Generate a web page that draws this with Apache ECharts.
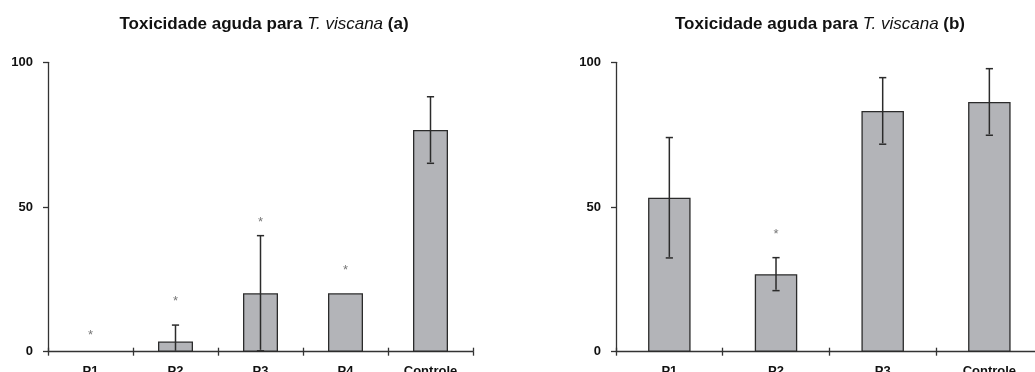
<!DOCTYPE html>
<html>
<head>
<meta charset="utf-8">
<script src="https://cdn.jsdelivr.net/npm/echarts@6/dist/echarts.min.js"></script>
<style>
html,body{margin:0;padding:0;background:#fff;}
#c{width:1035px;height:372px;}
</style>
</head>
<body>
<div id="c"></div>
<script>
// ---- data ----
var catsA = ['P1', 'P2', 'P3', 'P4', 'Controle'];
var meanA = [0, 3.5, 20.2, 20.2, 76.6];
var sdA   = [0, 5.7, 19.9, 0, 11.5];
var starA = [6.9, 18.7, 45.9, 29.4, null];

var catsB = ['P1', 'P2', 'P3', 'Controle'];
var meanB = [53.2, 26.8, 83.2, 86.3];
var sdB   = [20.8, 5.7, 11.5, 11.5];
var starB = [null, 41.8, null, null];

var yTicks = [0, 50, 100];

// ---- chart ----
var chart = echarts.init(document.getElementById('c'), null, {renderer: 'canvas'});
var FONT = '"Liberation Sans", Arial, sans-serif';
var AX = '#333';

function barData(mean) {
  return mean.map(function (v) {
    return v === 0 ? {value: v, itemStyle: {borderWidth: 0}} : v;
  });
}
function errData(mean, sd) {
  return mean.map(function (m, i) { return [i, m, sd[i]]; });
}
function starData(st) {
  var out = [];
  st.forEach(function (v, i) { if (v !== null) out.push([i, v]); });
  return out;
}
function errRender(params, api) {
  var i = api.value(0), m = api.value(1), s = api.value(2);
  if (!s) return null;
  var lo = Math.max(0, m - s), hi = m + s;
  var pHi = api.coord([i, hi]);
  var pLo = api.coord([i, lo]);
  var cap = 3.6;
  var st = {stroke: '#2b2b2b', lineWidth: 1.5};
  var ch = [
    {type: 'line', shape: {x1: pHi[0], y1: pHi[1], x2: pLo[0], y2: pLo[1] - 1}, style: st},
    {type: 'line', shape: {x1: pHi[0] - cap, y1: pHi[1], x2: pHi[0] + cap, y2: pHi[1]}, style: st}
  ];
  if (m - s > 0) {
    ch.push({type: 'line', shape: {x1: pLo[0] - cap, y1: pLo[1], x2: pLo[0] + cap, y2: pLo[1]}, style: st});
  }
  return {type: 'group', children: ch};
}
function starRender(params, api) {
  var p = api.coord([api.value(0), api.value(1)]);
  return {type: 'text', x: p[0], y: p[1] + 4,
    style: {text: '*', font: '13px ' + FONT, fill: '#777', align: 'center', verticalAlign: 'middle'}};
}

function yAxisCfg(idx) {
  return {
    type: 'value', gridIndex: idx, min: yTicks[0], max: yTicks[yTicks.length - 1], interval: 50,
    axisLine: {show: true, lineStyle: {color: AX, width: 1.3}},
    axisTick: {show: true, length: 5, lineStyle: {color: AX, width: 1.3}},
    splitLine: {show: false},
    axisLabel: {show: true, margin: 15, color: '#111', fontFamily: FONT, fontWeight: 'bold', fontSize: 13,
      customValues: yTicks}
  };
}
function xAxisCfg(idx, cats) {
  return {
    type: 'category', gridIndex: idx, data: cats, position: 'bottom',
    axisLine: {show: true, onZero: false, lineStyle: {color: AX, width: 1.3}},
    axisTick: {show: true, length: 4, lineStyle: {color: AX, width: 1.3}},
    axisLabel: {show: true, margin: 13, color: '#111', fontFamily: FONT, fontWeight: 'bold', fontSize: 13},
    splitLine: {show: false}
  };
}
function xAxisInner(idx, cats) {
  return {
    type: 'category', gridIndex: idx, data: cats, position: 'bottom', offset: 0,
    axisLine: {show: false},
    axisTick: {show: true, inside: true, length: 4, lineStyle: {color: AX, width: 1.3}},
    axisLabel: {show: false},
    splitLine: {show: false}
  };
}
function titleCfg(cx, tag) {
  return {
    text: '{n|Toxicidade aguda para }{i|T. viscana}{n| ' + tag + '}',
    left: cx, top: 11, textAlign: 'center',
    textStyle: {
      rich: {
        n: {fontFamily: FONT, fontWeight: 'bold', fontSize: 17, color: '#111'},
        i: {fontFamily: FONT, fontWeight: 'normal', fontStyle: 'italic', fontSize: 17, color: '#111'}
      }
    }
  };
}
var barStyle = {color: '#b3b4b8', borderColor: '#2b2b2b', borderWidth: 1.3};

chart.setOption({
  animation: false,
  backgroundColor: '#fff',
  title: [titleCfg(259, '(a)'), titleCfg(815, '(b)')],
  grid: [
    {left: 48, top: 62.3, width: 425, height: 289.4, outerBoundsMode: 'none', containLabel: false},
    {left: 616, top: 62.3, width: 426.7, height: 289.4, outerBoundsMode: 'none', containLabel: false}
  ],
  xAxis: [xAxisCfg(0, catsA), xAxisCfg(1, catsB), xAxisInner(0, catsA), xAxisInner(1, catsB)],
  yAxis: [yAxisCfg(0), yAxisCfg(1)],
  series: [
    {type: 'bar', xAxisIndex: 0, yAxisIndex: 0, data: barData(meanA), barWidth: 35, itemStyle: barStyle},
    {type: 'custom', xAxisIndex: 0, yAxisIndex: 0, data: errData(meanA, sdA), renderItem: errRender, z: 5},
    {type: 'custom', xAxisIndex: 0, yAxisIndex: 0, data: starData(starA), renderItem: starRender, z: 5},
    {type: 'bar', xAxisIndex: 1, yAxisIndex: 1, data: barData(meanB), barWidth: 42.5, itemStyle: barStyle},
    {type: 'custom', xAxisIndex: 1, yAxisIndex: 1, data: errData(meanB, sdB), renderItem: errRender, z: 5},
    {type: 'custom', xAxisIndex: 1, yAxisIndex: 1, data: starData(starB), renderItem: starRender, z: 5}
  ]
});
</script>
</body>
</html>
